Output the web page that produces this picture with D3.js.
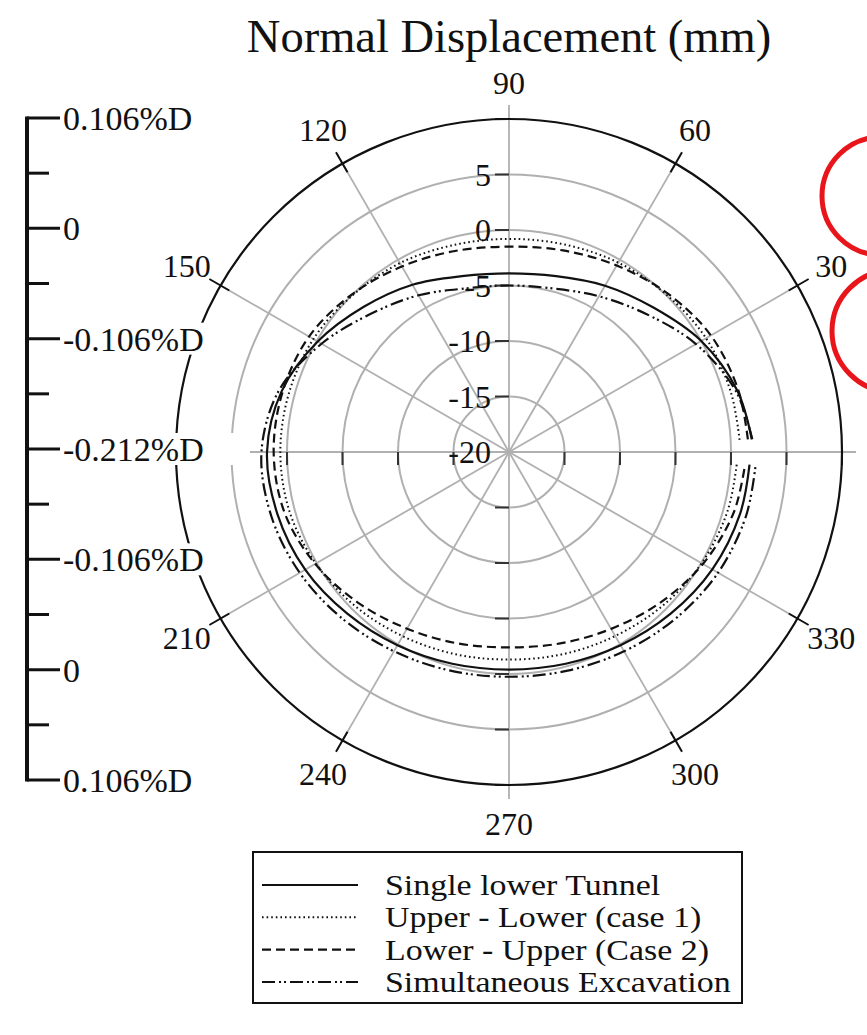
<!DOCTYPE html>
<html>
<head>
<meta charset="utf-8">
<script src="https://cdn.jsdelivr.net/npm/d3@7"></script>
<style>
  html, body { margin: 0; padding: 0; background: #fff; }
  svg { display: block; }
  text { font-family: "Liberation Serif", "Times New Roman", serif; fill: #111; }
</style>
</head>
<body>
<svg id="chart" width="867" height="1035"></svg>
<script>
// ---------------- data ----------------
const title = "Normal Displacement (mm)";
const angles = [3,15,30,45,60,75,90,105,120,135,150,165,180,195,210,225,240,255,270,285,300,315,330,345,357];
const singleLower  = [1.9,1.3,0.0,-1.6,-2.7,-3.6,-3.9,-3.6,-2.6,-1.5,-0.1,1.2,1.8,1.6,1.2,0.6,0.1,-0.25,-0.4,-0.25,0.1,0.6,1.15,1.55,1.7];
const upperLower   = [0.8,0.7,0.5,0.05,-0.3,-0.65,-0.8,-0.7,-0.35,-0.05,0.35,0.52,0.6,0.49,0.1,-0.38,-0.84,-1.15,-1.3,-1.15,-0.86,-0.42,0.04,0.4,0.55];
const lowerUpper   = [1.55,1.4,1.0,0.2,-0.6,-1.2,-1.5,-1.25,-0.7,0.05,0.8,1.1,1.2,0.95,0.16,-0.79,-1.62,-2.15,-2.4,-2.15,-1.6,-0.78,0.17,0.97,1.3];
const simultaneous = [1.95,1.17,-0.55,-2.45,-3.8,-4.75,-5.0,-4.75,-3.7,-2.4,-0.5,1.45,2.3,2.18,1.77,1.23,0.73,0.39,0.25,0.39,0.73,1.22,1.75,2.12,2.25];
const seriesNames = ["Single lower Tunnel","Upper - Lower (case 1)","Lower - Upper (Case 2)","Simultaneous Excavation"];
const radialTicks = [-20,-15,-10,-5,0,5,10];
const radialLabels = [5,0,-5,-10,-15,-20];
const angleTicks = [0,30,60,90,120,150,180,210,240,270,300,330];
const angleLabels = [30,60,90,120,150,210,240,270,300,330];
const barTicks = [0,1,2,3,4,5,6,7,8,9,10,11,12];
const barLabels = ["0.106%D","0","-0.106%D","-0.212%D","-0.106%D","0","0.106%D"];

// ---------------- layout ----------------
const svg = d3.select("#chart");
const cx = 509, cy = 452, R = 333;
const r = d3.scaleLinear().domain([-20, 10]).range([0, R]);
const toRad = d => d * Math.PI / 180;
const px = (deg, rad) => cx + rad * Math.cos(toRad(deg));
const py = (deg, rad) => cy - rad * Math.sin(toRad(deg));
const GRID = "#b0b0b0";

// title
svg.append("text").attr("x", cx).attr("y", 52).attr("text-anchor", "middle")
  .attr("font-size", 46.5).text(title);

const g = svg.append("g");

// rings
g.selectAll("circle.ring").data(radialTicks.filter(d => d > -20 && d < 10)).enter()
  .append("circle").attr("cx", cx).attr("cy", cy).attr("r", d => r(d))
  .attr("fill", "none").attr("stroke", GRID).attr("stroke-width", 2);

// spokes
g.selectAll("line.spoke").data(angleTicks).enter().append("line")
  .attr("x1", cx).attr("y1", cy)
  .attr("x2", d => px(d, (d % 90 === 0) ? R + 14 : R))
  .attr("y2", d => py(d, (d % 90 === 0) ? R + 14 : R))
  .attr("stroke", GRID).attr("stroke-width", 1.8);

// outer circle
g.append("circle").attr("cx", cx).attr("cy", cy).attr("r", r(10))
  .attr("fill", "none").attr("stroke", "#111").attr("stroke-width", 2.2);

// angular ticks (black)
g.selectAll("line.atick").data(angleTicks.filter(d => d % 90 !== 0)).enter().append("line")
  .attr("x1", d => px(d, R - 10)).attr("y1", d => py(d, R - 10))
  .attr("x2", d => px(d, R + 13)).attr("y2", d => py(d, R + 13))
  .attr("stroke", "#111").attr("stroke-width", 2);

// radial axis ticks on vertical axis (left-pointing) and horizontal axis (down-pointing)
const tickVals = radialTicks.filter(d => d > -20);
tickVals.forEach(v => {
  const col = v === 10 ? "#111" : "#333";
  [90, 270].forEach(a => {
    g.append("line").attr("x1", cx - 14).attr("x2", cx)
      .attr("y1", py(a, r(v))).attr("y2", py(a, r(v)))
      .attr("stroke", col).attr("stroke-width", 2);
  });
  [0, 180].forEach(a => {
    g.append("line").attr("x1", px(a, r(v))).attr("x2", px(a, r(v)))
      .attr("y1", cy).attr("y2", cy + 13)
      .attr("stroke", col).attr("stroke-width", 2);
  });
});

// radial labels
g.selectAll("text.rl").data(radialLabels).enter().append("text")
  .attr("x", cx - 18).attr("y", d => py(90, r(d)))
  .attr("dy", "0.35em").attr("text-anchor", "end").attr("font-size", 32)
  .text(d => d);

// angle labels
g.selectAll("text.al").data(angleLabels).enter().append("text")
  .attr("x", d => px(d, 372)).attr("y", d => py(d, 372) + (d === 90 ? 3 : 0))
  .attr("dy", "0.35em").attr("text-anchor", "middle").attr("font-size", 32)
  .text(d => d);

// left scale bar
const bar = d3.scaleLinear().domain([0, 12]).range([118, 780]);
const bg = svg.append("g");
bg.append("line").attr("x1", 27).attr("x2", 27).attr("y1", bar(0) - 1.5).attr("y2", bar(12) + 1.5)
  .attr("stroke", "#111").attr("stroke-width", 4);
bg.selectAll("line.bt").data(barTicks).enter().append("line")
  .attr("x1", 27).attr("x2", d => d % 2 === 0 ? 60 : 49)
  .attr("y1", d => bar(d)).attr("y2", d => bar(d))
  .attr("stroke", "#111").attr("stroke-width", 3);
const bl = bg.selectAll("g.bl").data(barLabels).enter().append("g");
bl.append("rect").attr("x", 60).attr("y", (d, i) => bar(i * 2) - 16)
  .attr("width", (d, i) => i === 3 ? 190 : (d === "0" ? 30 : 172)).attr("height", 32)
  .attr("fill", "#fff");
bl.append("text").attr("x", 63).attr("y", (d, i) => bar(i * 2)).attr("dy", "0.35em")
  .attr("font-size", 34).text(d => d);

// curves
const series = [
  { name: seriesNames[0], values: singleLower, dash: null, w: 2.2 },
  { name: seriesNames[1], values: upperLower, dash: "1.6,3", w: 2 },
  { name: seriesNames[2], values: lowerUpper, dash: "9,5", w: 2.2 },
  { name: seriesNames[3], values: simultaneous, dash: "13,4,2,3,2,4", w: 2.2 }
];
const line = d3.lineRadial()
  .angle(d => Math.PI / 2 - toRad(d[0]))
  .radius(d => r(d[1]))
  .curve(d3.curveCatmullRom.alpha(0.5));
const cg = svg.append("g").attr("transform", `translate(${cx},${cy})`);
series.forEach(s => {
  cg.append("path").datum(angles.map((a, i) => [a, s.values[i]]))
    .attr("d", line).attr("fill", "none").attr("stroke", "#111")
    .attr("stroke-width", s.w).attr("stroke-dasharray", s.dash);
});

// legend
const lg = svg.append("g");
lg.append("rect").attr("x", 253).attr("y", 852).attr("width", 489).attr("height", 151)
  .attr("fill", "#fff").attr("stroke", "#111").attr("stroke-width", 2);
const ly = d3.scalePoint().domain(seriesNames).range([885, 982]);
series.forEach(s => {
  lg.append("line").attr("x1", 262).attr("x2", 358).attr("y1", ly(s.name)).attr("y2", ly(s.name))
    .attr("stroke", "#111").attr("stroke-width", s.w).attr("stroke-dasharray", s.dash);
  lg.append("text").attr("transform", `translate(385,${ly(s.name)}) scale(1.17,1)`)
    .attr("dy", "0.35em").attr("font-size", 29).text(s.name);
});

// red annotation circles
svg.append("circle").attr("cx", 881).attr("cy", 196).attr("r", 59)
  .attr("fill", "none").attr("stroke", "#e8151b").attr("stroke-width", 5);
svg.append("circle").attr("cx", 893).attr("cy", 331).attr("r", 61)
  .attr("fill", "none").attr("stroke", "#e8151b").attr("stroke-width", 5);
</script>
</body>
</html>
